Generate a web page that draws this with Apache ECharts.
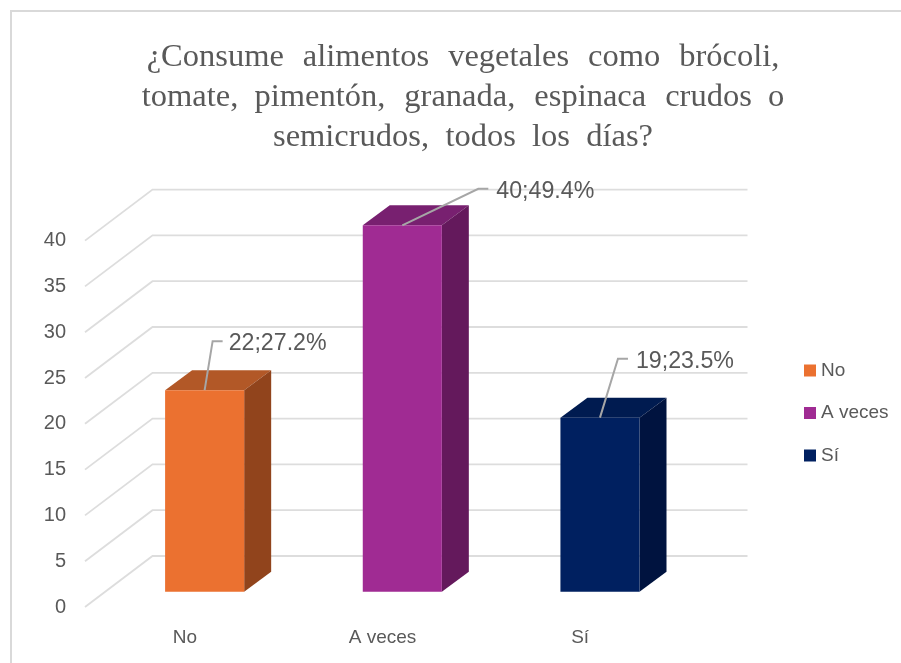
<!DOCTYPE html>
<html>
<head>
<meta charset="utf-8">
<style>html,body{margin:0;padding:0;background:#fff}#c{width:901px;height:663px}</style>
<script src="https://cdn.jsdelivr.net/npm/echarts@6/dist/echarts.min.js"></script>
</head>
<body>
<div id="c"></div>
<script>
var categories = ['No', 'A veces', 'Sí'];
var counts = [22, 40, 19];
var dataLabels = ['22;27.2%', '40;49.4%', '19;23.5%'];
var yTicks = [0, 5, 10, 15, 20, 25, 30, 35, 40];
var frontColors = ['#EB7130', '#A02B93', '#002060'];
var topColors = ['#B25827', '#782070', '#001B50'];
var sideColors = ['#91441C', '#64195C', '#00133F'];
var titleLines = [
  '¿Consume\u2002\u200Aalimentos\u2002\u200Avegetales\u2002\u200Acomo\u2002\u200Abrócoli,',
  'tomate,\u2002pimentón,\u2002\u200Agranada,\u2002\u200Aespinaca\u2002\u200Acrudos\u2002o',
  'semicrudos,\u2002todos\u2002los\u2002días?'
];

var WALL_DX = 67.5, WALL_DY = -51, WALL_PAD = 1;
var BAR_OX = 19.8, BAR_OY = -15.3, BAR_DX = 27, BAR_DY = -20;
var leaderBend = [[8, -49], [76, -36.5], [18, -59]];
var labelGap = [16, 18, 18];
var FONT = '"Liberation Sans", Arial, sans-serif';

function barSeries(idx) {
  return {
    name: categories[idx],
    type: 'custom',
    coordinateSystem: 'cartesian2d',
    clip: false,
    z: 5,
    itemStyle: { color: frontColors[idx] },
    encode: { x: 0, y: 1 },
    data: [[categories[idx], counts[idx]]],
    renderItem: function (params, api) {
      var top = api.coord([idx, api.value(1)]);
      var base = api.coord([idx, 0]);
      var w = api.size([1, 0])[0] * 0.4;
      var x0 = top[0] + BAR_OX - w / 2, x1 = x0 + w;
      var yT = top[1] + BAR_OY, yB = base[1] + BAR_OY;
      var cx = (x0 + x1) / 2;
      var b = leaderBend[idx];
      var bx = cx + b[0], by = yT + b[1];
      return {
        type: 'group',
        children: [
          { type: 'polygon', shape: { points: [[x0, yT], [x1, yT], [x1 + BAR_DX, yT + BAR_DY], [x0 + BAR_DX, yT + BAR_DY]] },
            style: { fill: topColors[idx] } },
          { type: 'polygon', shape: { points: [[x1, yT], [x1 + BAR_DX, yT + BAR_DY], [x1 + BAR_DX, yB + BAR_DY], [x1, yB]] },
            style: { fill: sideColors[idx] } },
          { type: 'rect', shape: { x: x0, y: yT, width: w, height: yB - yT },
            style: { fill: frontColors[idx] } },
          { type: 'polyline', shape: { points: [[cx, yT], [bx, by], [bx + 10, by]] },
            style: { stroke: '#A6A6A6', lineWidth: 2, fill: null } },
          { type: 'text', style: { text: dataLabels[idx], x: bx + labelGap[idx], y: by + 2.5, font: '23.2px ' + FONT,
            fill: '#595959', align: 'left', verticalAlign: 'middle' } }
        ]
      };
    }
  };
}

var wallSeries = {
  name: 'walls',
  type: 'custom',
  coordinateSystem: 'cartesian2d',
  clip: false,
  silent: true,
  z: 1,
  encode: { y: 1 },
  data: yTicks.map(function (t) { return [0, t]; }),
  renderItem: function (params, api) {
    var p = api.coord([0, api.value(1)]);
    var size = api.size([1, 0])[0];
    var left = p[0] - size / 2 - WALL_PAD;
    var backX = left + WALL_DX, backY = p[1] + WALL_DY;
    return {
      type: 'polyline',
      shape: { points: [[left, p[1]], [backX, backY], [backX + size * categories.length + 2 * WALL_PAD, backY]] },
      style: { stroke: '#DDDDDD', lineWidth: 1.8, fill: null }
    };
  }
};

var chart = echarts.init(document.getElementById('c'), null, { renderer: 'canvas' });
chart.setOption({
  animation: false,
  backgroundColor: '#fff',
  graphic: [{
    type: 'polyline',
    shape: { points: [[11, 663], [11, 11], [901, 11]] },
    style: { stroke: '#D9D9D9', lineWidth: 2, fill: null }
  }],
  title: {
    text: titleLines.join('\n'),
    left: 458, top: 32,
    textAlign: 'center',
    textStyle: { fontFamily: '"Liberation Serif", serif', fontWeight: 'normal', fontSize: 32.5, lineHeight: 40, color: '#595959' }
  },
  legend: {
    left: 804, top: 361, padding: 0,
    orient: 'vertical',
    data: categories.map(function (c) { return { name: c, icon: 'rect' }; }),
    itemWidth: 12, itemHeight: 12, itemGap: 23.5,
    textStyle: { fontFamily: FONT, fontSize: 19, color: '#595959', padding: [0, 0, 0, 0] },
    selectedMode: false
  },
  grid: { left: 86, top: 240.6, width: 593, height: 366.4 },
  xAxis: {
    type: 'category',
    data: categories,
    axisLine: { show: false },
    axisTick: { show: false },
    axisLabel: { margin: 21, fontFamily: FONT, fontSize: 19, color: '#595959' }
  },
  yAxis: {
    type: 'value',
    min: 0, max: 40, interval: 5,
    axisLine: { show: false },
    axisTick: { show: false },
    splitLine: { show: false },
    axisLabel: { margin: 20, fontFamily: FONT, fontSize: 20, color: '#595959', padding: [2, 0, 0, 0] }
  },
  series: [wallSeries, barSeries(0), barSeries(1), barSeries(2)]
});
</script>
</body>
</html>
